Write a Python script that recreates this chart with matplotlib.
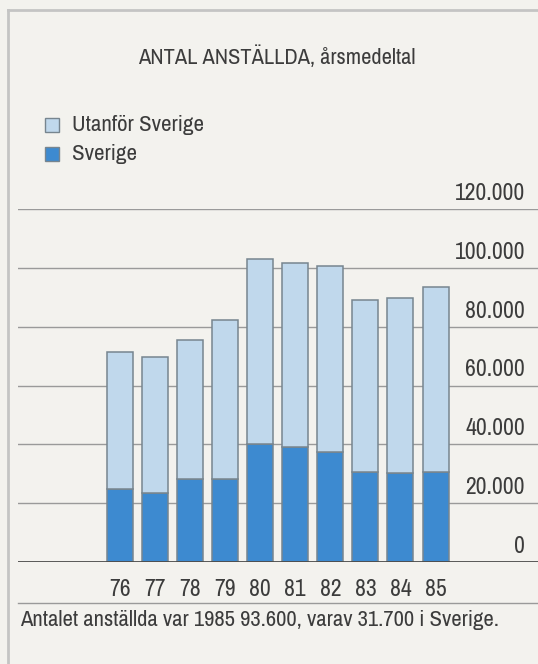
import os
import matplotlib
matplotlib.use("Agg")
import matplotlib.pyplot as plt
from matplotlib.lines import Line2D
from matplotlib.patches import Rectangle
import matplotlib.transforms as mtransforms
from matplotlib import font_manager as fm

years = ['76', '77', '78', '79', '80', '81', '82', '83', '84', '85']
sverige = [24800, 23600, 28200, 28300, 40100, 39200, 37300, 30700, 30200, 30700]
utanfor = [46600, 46000, 47300, 53800, 63000, 62300, 63400, 58500, 59500, 62900]
yticks = [0, 20000, 40000, 60000, 80000, 100000, 120000]
ytick_labels = ['0', '20.000', '40.000', '60.000', '80.000', '100.000', '120.000']
title = 'ANTAL ANSTÄLLDA, årsmedeltal'
legend_labels = ['Utanför Sverige', 'Sverige']
footnote = 'Antalet anställda var 1985 93.600, varav 31.700 i Sverige.'


def pick_font():
    bad = ('bold', 'italic', 'oblique', 'light', 'medium', 'black', 'thin',
           'semibold', 'extrabold', 'heavy', 'extralight', 'mono', 'serif', 'cjk')
    best = None
    for f in fm.fontManager.ttflist:
        base = os.path.basename(f.fname).lower()
        name = f.name.lower()
        if any(b in base for b in bad):
            continue
        if f.style != 'normal':
            continue
        score = None
        if 'narrow' in name or 'narrow' in base:
            score = 0
        elif 'semicondensed' in base or 'semi-condensed' in base:
            score = 3
        elif 'extracondensed' in base or 'extra-condensed' in base:
            score = 4
        elif 'condensed' in base or 'condensed' in name or f.stretch == 'condensed':
            score = 1
        if score is not None and (best is None or score < best[0]):
            best = (score, f.fname)
    if best:
        return fm.FontProperties(fname=best[1])
    return fm.FontProperties(family=['Liberation Sans', 'DejaVu Sans'])


FP = pick_font()

W, H = 538, 664
DPI = 100
bg = '#f3f2ee'
light = '#c0d8ec'
dark = '#3d8ad0'
edge = '#77858f'
txt = '#3c3c3c'
grid_c = '#9a9a9a'

fig = plt.figure(figsize=(W / DPI, H / DPI), dpi=DPI, facecolor=bg)
renderer = fig.canvas.get_renderer()


def fx(px):
    return px / W


def fy(py):
    return 1 - py / H


def fit_size(s, target_w, base=15):
    t = fig.text(0, 0, s, fontproperties=FP, fontsize=base)
    w = t.get_window_extent(renderer=renderer).width
    t.remove()
    return base * target_w / w


size_title = min(fit_size(title, 277), 17)
size_leg = min(fit_size(legend_labels[0], 132), 17)
size_ylab = min(fit_size(ytick_labels[-1], 71), 17)
size_xlab = min(fit_size(years[0], 22), 17)
size_foot = min(fit_size(footnote, 480), 17)

# axes: x pixel 18..538, y pixel 562 (0) .. 209 (120000)
ax = fig.add_axes([fx(18), fy(562), fx(538 - 18), (562 - 209) / H])
ax.set_facecolor('none')
spacing = 35.06
ax.set_xlim(-(120 - 18) / spacing, 9 + (538 - 435.5) / spacing)
ax.set_ylim(0, 120000)
for s in ax.spines.values():
    s.set_visible(False)
ax.set_xticks([])
ax.set_yticks([])

for v in yticks[1:]:
    ax.axhline(v, color=grid_c, lw=1.0, zorder=0)
ax.axhline(0, color='#4a4a4a', lw=2.0, zorder=3)

x = list(range(len(years)))
bw = 26 / spacing
ax.bar(x, sverige, width=bw, color=dark, edgecolor=edge, linewidth=1.1, zorder=2)
ax.bar(x, utanfor, bottom=sverige, width=bw, color=light, edgecolor=edge, linewidth=1.1, zorder=2)

trans = mtransforms.offset_copy(ax.get_yaxis_transform(), fig=fig, x=0, y=5, units='dots')
for v, lab in zip(yticks, ytick_labels):
    ax.text((525 - 18) / (538 - 18), v, lab, transform=trans, ha='right', va='bottom',
            fontproperties=FP, fontsize=size_ylab, color=txt)

for xi, lab in zip(x, years):
    ax.annotate(lab, xy=(xi, 0), xycoords='data', xytext=(0, -27), textcoords='offset pixels',
                ha='center', va='center', fontproperties=FP, fontsize=size_xlab, color=txt)

fig.text(fx(277), fy(57), title, ha='center', va='center', fontproperties=FP,
         fontsize=size_title, color=txt)

for i, (lab, c) in enumerate(zip(legend_labels, [light, dark])):
    cy = [125, 154][i]
    fig.patches.append(Rectangle((fx(45), fy(cy + 7)), fx(14), 14 / H, transform=fig.transFigure,
                                 facecolor=c, edgecolor=edge, linewidth=1.0))
    fig.text(fx(72), fy(cy), lab, ha='left', va='center', fontproperties=FP,
             fontsize=size_leg, color=txt)

fig.lines.append(Line2D([fx(18), 1], [fy(603), fy(603)], transform=fig.transFigure,
                        color=grid_c, lw=1.0))

fig.text(fx(20), fy(620), footnote, ha='left', va='center', fontproperties=FP,
         fontsize=size_foot, color=txt)

fig.lines.append(Line2D([fx(8), fx(8)], [0, fy(10)], transform=fig.transFigure, color='#c4c4c4', lw=2))
fig.lines.append(Line2D([fx(8), 1], [fy(10), fy(10)], transform=fig.transFigure, color='#c4c4c4', lw=2))

fig.savefig('out.png', dpi=DPI, facecolor=bg)
